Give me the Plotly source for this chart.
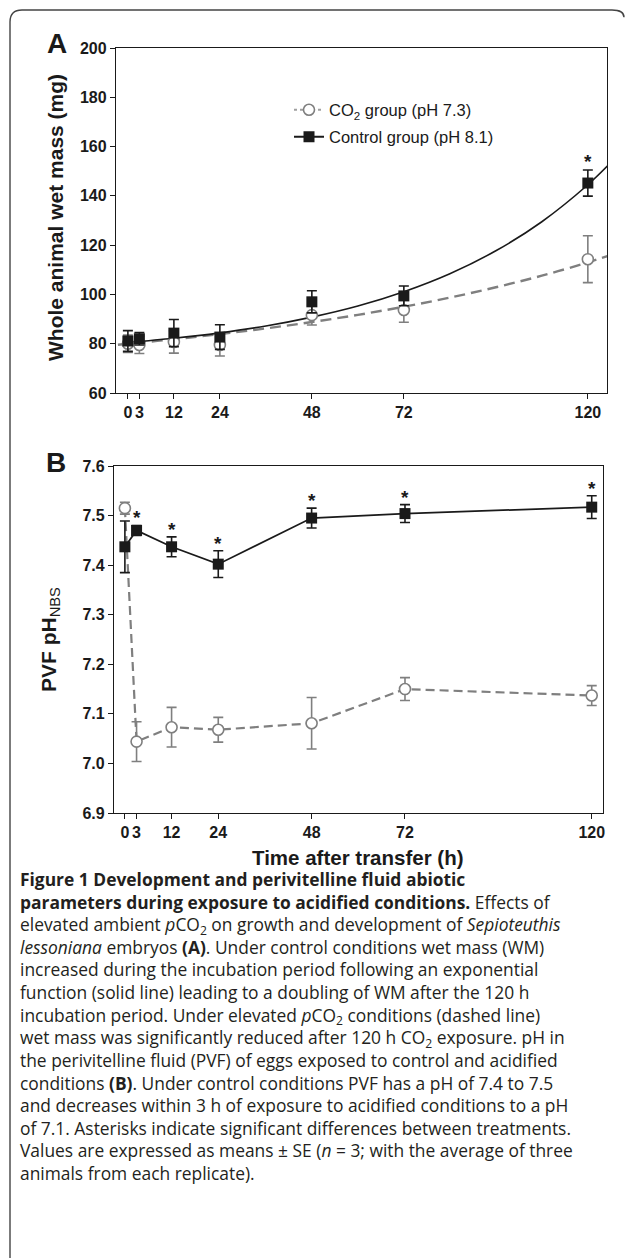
import plotly.graph_objects as go

W, H = 627, 1258

# ---------------- data ----------------
time_h = [0, 3, 12, 24, 48, 72, 120]
tick_labels = ["0", "3", "12", "24", "48", "72", "120"]

# Panel A: whole animal wet mass (mg)
mass_co2 = [80.0, 79.5, 80.7, 79.5, 91.6, 93.7, 114.3]
mass_co2_se = [3.5, 3.5, 4.5, 4.5, 4.0, 5.0, 9.5]
mass_ctrl = [81.1, 82.0, 84.3, 82.7, 97.0, 99.4, 145.2]
mass_ctrl_se = [4.2, 2.5, 5.5, 5.0, 4.5, 4.0, 5.3]

# fitted curves
fit_t_ctrl = [0, 12, 24, 36, 48, 60, 72, 84, 96, 108, 120, 126]
fit_ctrl = [80.5, 82.2, 84.4, 87.2, 90.8, 95.3, 101.1, 108.4, 117.7, 129.5, 144.5, 153.5]
fit_t_co2 = [-2.6, 0, 12, 24, 36, 48, 60, 72, 84, 96, 108, 120, 126]
fit_co2 = [79.6, 80.0, 81.8, 83.9, 86.2, 88.8, 91.7, 95.0, 98.7, 102.9, 107.6, 113.0, 116.0]

# Panel B: PVF pH (NBS)
ph_co2 = [7.515, 7.044, 7.073, 7.068, 7.081, 7.150, 7.137]
ph_co2_se = [0.012, 0.040, 0.040, 0.025, 0.052, 0.023, 0.020]
ph_ctrl = [7.437, 7.470, 7.437, 7.402, 7.495, 7.504, 7.517]
ph_ctrl_se = [0.052, 0.010, 0.020, 0.027, 0.020, 0.018, 0.023]

sig_a = [120]
sig_b = [3, 12, 24, 48, 72, 120]

caption_lines = [
    "<b>Figure 1 Development and perivitelline fluid abiotic</b>",
    "<b>parameters during exposure to acidified conditions.</b> Effects of",
    "elevated ambient <i>p</i>CO<sub>2</sub> on growth and development of <i>Sepioteuthis</i>",
    "<i>lessoniana</i> embryos <b>(A)</b>. Under control conditions wet mass (WM)",
    "increased during the incubation period following an exponential",
    "function (solid line) leading to a doubling of WM after the 120 h",
    "incubation period. Under elevated <i>p</i>CO<sub>2</sub> conditions (dashed line)",
    "wet mass was significantly reduced after 120 h CO<sub>2</sub> exposure. pH in",
    "the perivitelline fluid (PVF) of eggs exposed to control and acidified",
    "conditions <b>(B)</b>. Under control conditions PVF has a pH of 7.4 to 7.5",
    "and decreases within 3 h of exposure to acidified conditions to a pH",
    "of 7.1. Asterisks indicate significant differences between treatments.",
    "Values are expressed as means ± SE (<i>n</i> = 3; with the average of three",
    "animals from each replicate).",
]

# ---------------- styling ----------------
GRAY = "#7f7f7f"
BLACK = "#1a1a1a"
AX = "Liberation Sans"
CAP = "Open Sans"

def px(x):
    return x / W

def py(y):
    return 1 - y / H

fig = go.Figure()

# ---- Panel A ----
fig.add_trace(go.Scatter(x=fit_t_co2, y=fit_co2, mode="lines", line_shape="spline",
                         line=dict(color=GRAY, width=2.4, dash="11px,6px"),
                         xaxis="x", yaxis="y", showlegend=False, hoverinfo="skip"))
fig.add_trace(go.Scatter(x=fit_t_ctrl, y=fit_ctrl, mode="lines", line_shape="spline",
                         line=dict(color=BLACK, width=1.6),
                         xaxis="x", yaxis="y", showlegend=False, hoverinfo="skip"))
fig.add_trace(go.Scatter(x=time_h, y=mass_co2, mode="markers",
                         marker=dict(symbol="circle", size=11, color="white",
                                     line=dict(color=GRAY, width=1.6)),
                         error_y=dict(type="data", array=mass_co2_se, color=GRAY, thickness=1.6, width=5),
                         xaxis="x", yaxis="y", showlegend=False))
fig.add_trace(go.Scatter(x=time_h, y=mass_ctrl, mode="markers",
                         marker=dict(symbol="square", size=11, color=BLACK),
                         error_y=dict(type="data", array=mass_ctrl_se, color=BLACK, thickness=1.6, width=5),
                         xaxis="x", yaxis="y", showlegend=False))

# legend entries
fig.add_trace(go.Scatter(x=[None], y=[None], mode="lines+markers", name="CO<sub>2</sub> group (pH 7.3)",
                         line=dict(color="#a0a0a0", width=2.2, dash="dot"),
                         marker=dict(symbol="circle", size=11, color="white", line=dict(color=GRAY, width=1.6)),
                         xaxis="x", yaxis="y", legend="legend"))
fig.add_trace(go.Scatter(x=[None], y=[None], mode="lines+markers", name="Control group (pH 8.1)",
                         line=dict(color=BLACK, width=2),
                         marker=dict(symbol="square", size=11, color=BLACK),
                         xaxis="x", yaxis="y", legend="legend2"))

# ---- Panel B ----
fig.add_trace(go.Scatter(x=time_h, y=ph_co2, mode="lines+markers",
                         line=dict(color=GRAY, width=2.2, dash="9px,5px"),
                         marker=dict(symbol="circle", size=11, color="white",
                                     line=dict(color=GRAY, width=1.6)),
                         error_y=dict(type="data", array=ph_co2_se, color=GRAY, thickness=1.6, width=5),
                         xaxis="x2", yaxis="y2", showlegend=False))
fig.add_trace(go.Scatter(x=time_h, y=ph_ctrl, mode="lines+markers",
                         line=dict(color=BLACK, width=1.7),
                         marker=dict(symbol="square", size=11, color=BLACK),
                         error_y=dict(type="data", array=ph_ctrl_se, color=BLACK, thickness=1.6, width=5),
                         xaxis="x2", yaxis="y2", showlegend=False))

annotations = []
# asterisks
for t in sig_a:
    i = time_h.index(t)
    annotations.append(dict(x=t, y=mass_ctrl[i] + mass_ctrl_se[i], xref="x", yref="y",
                            text="<b>*</b>", showarrow=False, xanchor="center", yanchor="bottom",
                            yshift=-4, font=dict(family=AX, size=19, color=BLACK)))
for t in sig_b:
    i = time_h.index(t)
    annotations.append(dict(x=t, y=ph_ctrl[i] + ph_ctrl_se[i], xref="x2", yref="y2",
                            text="<b>*</b>", showarrow=False, xanchor="center", yanchor="bottom",
                            yshift=-5, font=dict(family=AX, size=19, color=BLACK)))

def label(x, y, text, size, angle=0):
    return dict(x=px(x), y=py(y), xref="paper", yref="paper", text=text, showarrow=False,
                xanchor="center", yanchor="middle", textangle=angle, borderpad=0,
                font=dict(family=AX, size=size, color=BLACK))

# panel letters
annotations.append(label(57, 44, "<b>A</b>", 28))
annotations.append(label(56, 462, "<b>B</b>", 28))

# axis titles
annotations.append(label(55, 218, "<b>Whole animal wet mass (mg)</b>", 21, -90))
annotations.append(label(50, 640, "<b>PVF pH</b><sub>NBS</sub>", 21, -90))
annotations.append(label(358, 857, "<b>Time after transfer (h)</b>", 20.5))

# caption (one multi-line text block)
annotations.append(dict(x=px(19), y=py(866), xref="paper", yref="paper",
                        xanchor="left", yanchor="top", align="left", borderpad=0,
                        text="<br>".join(caption_lines), showarrow=False,
                        font=dict(family=CAP, size=17.4, color="#231f20")))

# frame
rx, ry = 12 / W, 12 / H
xl, yt, xr = px(10), py(10), px(624)
frame = dict(type="path", xref="paper", yref="paper",
             path=(f"M {xl},0 L {xl},{yt - ry} Q {xl},{yt} {xl + rx},{yt} "
                   f"L {xr - rx},{yt} Q {xr},{yt} {xr},{yt - ry * 0.6}"),
             line=dict(color="#444444", width=1.4))

axis_common = dict(showgrid=False, zeroline=False, showline=True, linecolor=BLACK, linewidth=1.3,
                   mirror=True, ticks="outside", ticklen=5, tickwidth=1.3, tickcolor=BLACK,
                   automargin=False,
                   tickfont=dict(family=AX, size=16, color=BLACK, weight="bold"))

fig.update_layout(
    width=W, height=H, margin=dict(l=0, r=0, t=0, b=0, autoexpand=False),
    paper_bgcolor="white", plot_bgcolor="white",
    xaxis=dict(domain=[px(116), px(607)], range=[-3.1, 125], anchor="y",
               tickvals=time_h, ticktext=tick_labels, **axis_common),
    yaxis=dict(domain=[py(393), py(48)], range=[60, 200], anchor="x",
               tickvals=[60, 80, 100, 120, 140, 160, 180, 200], **axis_common),
    xaxis2=dict(domain=[px(114), px(603)], range=[-2.8, 122.9], anchor="y2",
                tickvals=time_h, ticktext=tick_labels, **axis_common),
    yaxis2=dict(domain=[py(813), py(466)], range=[6.9, 7.6], anchor="x2",
                tickvals=[6.9, 7.0, 7.1, 7.2, 7.3, 7.4, 7.5, 7.6], tickformat=".1f", **axis_common),
    legend=dict(x=px(289), y=py(110), xanchor="left", yanchor="middle", bgcolor="rgba(0,0,0,0)",
                font=dict(family=AX, size=16.5, color=BLACK), itemwidth=30),
    legend2=dict(x=px(289), y=py(137), xanchor="left", yanchor="middle", bgcolor="rgba(0,0,0,0)",
                 font=dict(family=AX, size=16.5, color=BLACK), itemwidth=30),
    annotations=annotations,
    shapes=[frame],
)

fig.write_html("out.html", config={"displayModeBar": False},
               post_script="document.body.style.margin='0px';")
